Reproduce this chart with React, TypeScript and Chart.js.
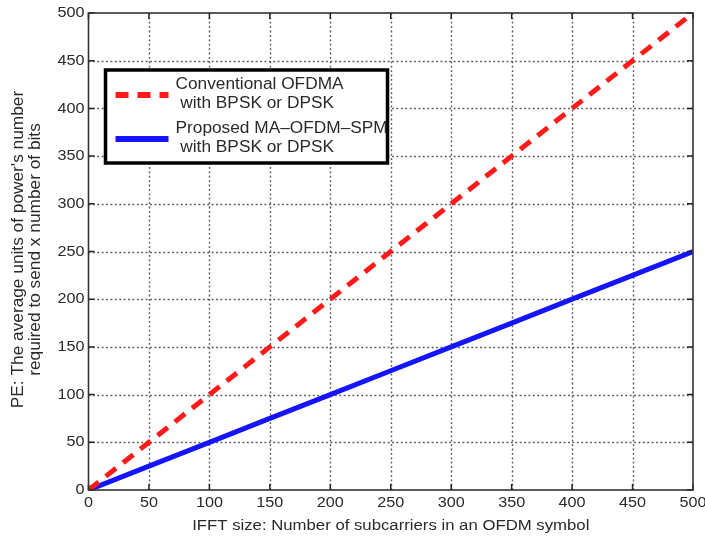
import { useEffect, useRef } from "react";
import { Chart, registerables } from "chart.js";

Chart.register(...registerables);

// ---- data ----
const ifftSizes = [0, 50, 100, 150, 200, 250, 300, 350, 400, 450, 500];
const conventionalOFDMA = [0, 50, 100, 150, 200, 250, 300, 350, 400, 450, 500];
const proposedMAOFDMSPM = [0, 25, 50, 75, 100, 125, 150, 175, 200, 225, 250];
const xTicks = [0, 50, 100, 150, 200, 250, 300, 350, 400, 450, 500];
const yTicks = [0, 50, 100, 150, 200, 250, 300, 350, 400, 450, 500];
const legendLines = [
  ["Conventional OFDMA", " with BPSK or DPSK"],
  ["Proposed MA\u2013OFDM\u2013SPM", " with BPSK or DPSK"],
];
const xTitle = "IFFT size: Number of subcarriers in an OFDM symbol";
const yTitle = ["PE: The average units of power's number", "required to send x number of bits"];

const FONT = "'Liberation Sans', Arial, Helvetica, sans-serif";
const TEXT = "#2a2a2a";
const STRETCH = 1.08;
const RED = "#ff1a1a";
const BLUE = "#1414ff";

function drawText(
  ctx: CanvasRenderingContext2D,
  text: string,
  x: number,
  y: number,
  size: number,
  align: CanvasTextAlign,
  rotate = false,
  stretch = STRETCH
) {
  ctx.save();
  ctx.translate(x, y);
  if (rotate) ctx.rotate(-Math.PI / 2);
  ctx.scale(stretch, 1);
  ctx.font = `${size}px ${FONT}`;
  ctx.fillStyle = TEXT;
  ctx.textAlign = align;
  ctx.textBaseline = "middle";
  ctx.fillText(text, 0, 0);
  ctx.restore();
}

const framePlugin = {
  id: "matlabFrame",
  beforeDatasetsDraw(chart: any) {
    const { ctx, chartArea: a, scales } = chart;
    const xs = scales.x;
    const ys = scales.y;
    ctx.save();
    ctx.fillStyle = "#fff";
    ctx.fillRect(a.left, a.top, a.right - a.left, a.bottom - a.top);
    ctx.strokeStyle = "#555";
    ctx.lineWidth = 1.4;
    ctx.setLineDash([1.8, 2.6]);
    for (const v of xTicks) {
      const px = Math.round(xs.getPixelForValue(v)) + 0.5;
      if (px <= a.left + 1 || px >= a.right - 1) continue;
      ctx.beginPath();
      ctx.moveTo(px, a.top);
      ctx.lineTo(px, a.bottom);
      ctx.stroke();
    }
    for (const v of yTicks) {
      const py = Math.round(ys.getPixelForValue(v)) + 0.5;
      if (py <= a.top + 1 || py >= a.bottom - 1) continue;
      ctx.beginPath();
      ctx.moveTo(a.left, py);
      ctx.lineTo(a.right, py);
      ctx.stroke();
    }
    ctx.restore();
  },
  afterDatasetsDraw(chart: any) {
    const { ctx, chartArea: a, scales } = chart;
    const xs = scales.x;
    const ys = scales.y;
    ctx.save();
    // inward tick marks
    ctx.strokeStyle = "#222";
    ctx.lineWidth = 1.5;
    ctx.setLineDash([]);
    const tl = 6;
    for (const v of xTicks) {
      const px = xs.getPixelForValue(v);
      ctx.beginPath();
      ctx.moveTo(px, a.bottom);
      ctx.lineTo(px, a.bottom - tl);
      ctx.moveTo(px, a.top);
      ctx.lineTo(px, a.top + tl);
      ctx.stroke();
    }
    for (const v of yTicks) {
      const py = ys.getPixelForValue(v);
      ctx.beginPath();
      ctx.moveTo(a.left, py);
      ctx.lineTo(a.left + tl, py);
      ctx.moveTo(a.right, py);
      ctx.lineTo(a.right - tl, py);
      ctx.stroke();
    }
    // box
    ctx.strokeStyle = "#333";
    ctx.lineWidth = 1.6;
    ctx.strokeRect(a.left, a.top, a.right - a.left, a.bottom - a.top);

    // legend
    const lx = a.left + 17;
    const ly = a.top + 57;
    const lw = 282;
    const lh = 93;
    ctx.fillStyle = "#fff";
    ctx.fillRect(lx, ly, lw, lh);
    ctx.strokeStyle = "#000";
    ctx.lineWidth = 3.5;
    ctx.strokeRect(lx, ly, lw, lh);

    const ds = chart.data.datasets;
    const rows = [ly + 25, ly + 69];
    ds.forEach((d: any, i: number) => {
      const cy = rows[i];
      ctx.save();
      ctx.strokeStyle = d.borderColor;
      ctx.lineWidth = 6;
      ctx.setLineDash(d.borderDash || []);
      ctx.beginPath();
      ctx.moveTo(lx + 10, cy);
      ctx.lineTo(lx + 63, cy);
      ctx.stroke();
      ctx.restore();
      const lines = legendLines[i];
      drawText(ctx, lines[0], lx + 70, cy - 10, 16, "left");
      drawText(ctx, lines[1], lx + 70, cy + 9, 16, "left");
    });

    // tick labels
    for (const v of xTicks) {
      drawText(ctx, String(v), xs.getPixelForValue(v), a.bottom + 13, 15, "center");
    }
    for (const v of yTicks) {
      drawText(ctx, String(v), a.left - 4, ys.getPixelForValue(v), 15, "right");
    }
    // axis titles
    const cx = (a.left + a.right) / 2;
    drawText(ctx, xTitle, cx, a.bottom + 36, 15.5, "center");
    const cy = (a.top + a.bottom) / 2 - 2;
    drawText(ctx, yTitle[0], a.left - 70, cy, 16, "center", true);
    drawText(ctx, yTitle[1], a.left - 53, cy, 16, "center", true);
    ctx.restore();
  },
};

export default function App() {
  const canvasRef = useRef<HTMLCanvasElement | null>(null);

  useEffect(() => {
    const canvas = canvasRef.current;
    if (!canvas) return;
    const chart = new Chart(canvas, {
      type: "line",
      data: {
        datasets: [
          {
            label: legendLines[0].join(" "),
            data: ifftSizes.map((x, i) => ({ x, y: conventionalOFDMA[i] })),
            borderColor: RED,
            borderWidth: 5,
            borderDash: [13, 9],
            pointRadius: 0,
            fill: false,
            tension: 0,
          },
          {
            label: legendLines[1].join(" "),
            data: ifftSizes.map((x, i) => ({ x, y: proposedMAOFDMSPM[i] })),
            borderColor: BLUE,
            borderWidth: 5,
            pointRadius: 0,
            fill: false,
            tension: 0,
          },
        ],
      },
      options: {
        animation: false,
        responsive: false,
        maintainAspectRatio: false,
        layout: { padding: { top: 13, right: 12, left: 0, bottom: 0 } },
        plugins: {
          legend: { display: false },
          tooltip: { enabled: false },
        },
        scales: {
          x: {
            type: "linear",
            min: 0,
            max: 500,
            ticks: { display: false, stepSize: 50 },
            grid: { display: false },
            border: { display: false },
            afterFit: (s: any) => {
              s.height = 48;
            },
          },
          y: {
            type: "linear",
            min: 0,
            max: 500,
            ticks: { display: false, stepSize: 50 },
            grid: { display: false },
            border: { display: false },
            afterFit: (s: any) => {
              s.width = 88.5;
            },
          },
        },
      },
      plugins: [framePlugin],
    });
    return () => chart.destroy();
  }, []);

  return (
    <div style={{ position: "fixed", left: 0, top: 0, width: 705, height: 538, background: "#fff" }}>
      <canvas ref={canvasRef} width={705} height={538} style={{ display: "block" }} />
    </div>
  );
}
